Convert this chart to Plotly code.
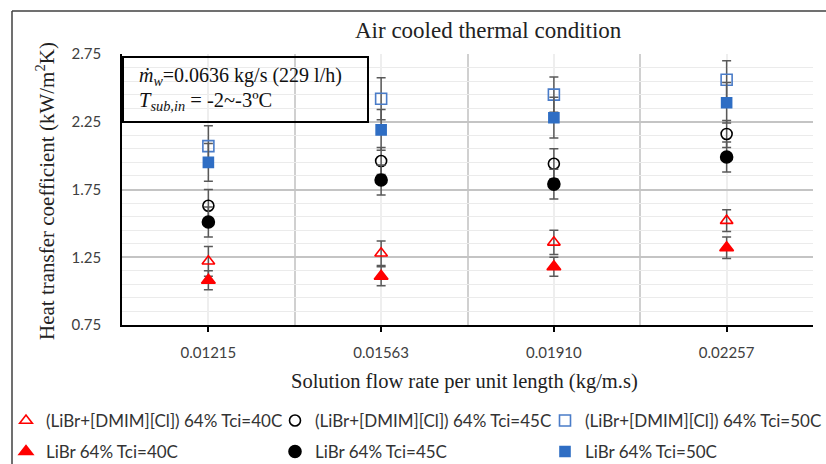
import plotly.graph_objects as go

# ---------------- data ----------------
categories = ["0.01215", "0.01563", "0.01910", "0.02257"]

dmim_40 = [1.22, 1.28, 1.36, 1.52]
dmim_45 = [1.63, 1.96, 1.94, 2.16]
dmim_50 = [2.07, 2.42, 2.45, 2.56]
libr_40 = [1.08, 1.11, 1.18, 1.32]
libr_45 = [1.51, 1.82, 1.79, 1.99]
libr_50 = [1.95, 2.19, 2.28, 2.39]

err_dmim_40 = [0.11, 0.09, 0.09, 0.08]
err_dmim_45 = [0.12, 0.10, 0.11, 0.10]
err_dmim_50 = [0.15, 0.155, 0.13, 0.14]
err_libr_40 = [0.07, 0.07, 0.07, 0.08]
err_libr_45 = [0.11, 0.11, 0.11, 0.11]
err_libr_50 = [0.14, 0.15, 0.15, 0.15]

y_ticks = [0.75, 1.25, 1.75, 2.25, 2.75]

names = [
    "(LiBr+[DMIM][Cl]) 64% Tci=40C",
    "(LiBr+[DMIM][Cl]) 64% Tci=45C",
    "(LiBr+[DMIM][Cl]) 64% Tci=50C",
    "LiBr 64% Tci=40C",
    "LiBr 64% Tci=45C",
    "LiBr 64% Tci=50C",
]

# ---------------- layout geometry ----------------
W, H = 826, 464
L, R, T, B = 122, 13, 54, 139
PW, PH = W - L - R, H - T - B


def px(x):
    return (x - L) / PW


def py(y):
    return (H - B - y) / PH


x_idx = list(range(len(categories)))

# legend item positions (pixels): one single-item legend per series
leg_x = [6, 275, 545, 6, 275, 545]
leg_y = [421, 421, 421, 452, 452, 452]
leg_ids = ["legend", "legend2", "legend3", "legend4", "legend5", "legend6"]

series = [
    (dmim_40, err_dmim_40, "triangle-up-open", "#FF0000", 11),
    (dmim_45, err_dmim_45, "circle-open", "#000000", 11),
    (dmim_50, err_dmim_50, "square-open", "#4A7CC8", 11),
    (libr_40, err_libr_40, "triangle-up", "#FF0000", 12),
    (libr_45, err_libr_45, "circle", "#000000", 12),
    (libr_50, err_libr_50, "square", "#2F6EC4", 10),
]

fig = go.Figure()
for (vals, err, sym, col, size), name, leg in zip(series, names, leg_ids):
    fig.add_trace(go.Scatter(
        x=x_idx, y=vals, mode="markers", name=name, legend=leg,
        marker=dict(symbol=sym, color=col, size=size,
                    line=dict(color=col, width=1.6)),
        error_y=dict(type="data", array=err, color="#595959",
                     thickness=1.5, width=4.5),
    ))

tick_font = dict(family="Lato, Calibri, sans-serif", size=15, color="#404040")
leg_font = dict(family="Lato, Calibri, sans-serif", size=17, color="#333333")
serif = "Liberation Serif, Times New Roman, serif"

legend_common = dict(
    orientation="h", xref="paper", yref="paper",
    xanchor="left", yanchor="middle",
    font=leg_font, bgcolor="rgba(0,0,0,0)", borderwidth=0,
    itemclick=False, itemdoubleclick=False,
)
legends = {lid: dict(legend_common, x=px(lx), y=py(ly))
           for lid, lx, ly in zip(leg_ids, leg_x, leg_y)}

fig.update_layout(
    width=W, height=H,
    margin=dict(l=L, r=R, t=T, b=B, autoexpand=False),
    paper_bgcolor="white", plot_bgcolor="white",
    showlegend=True,
    xaxis=dict(
        range=[-0.5, len(categories) - 0.5],
        tickmode="array", tickvals=x_idx, ticktext=categories,
        showgrid=True, gridcolor="#EEEEEE", gridwidth=1.5,
        minor=dict(tickmode="array",
                   tickvals=[i - 0.5 for i in range(len(categories) + 1)],
                   showgrid=True, gridcolor="#D0D0D0", gridwidth=1.5,
                   ticks=""),
        ticks="outside", ticklen=5, tickcolor="#000000", tickwidth=1.5,
        showline=True, linecolor="#000000", linewidth=1.5,
        tickfont=tick_font, ticklabelstandoff=8,
        zeroline=False, fixedrange=True,
    ),
    yaxis=dict(
        range=[0.75, 2.75],
        tickmode="array", tickvals=y_ticks, tickformat=".2f",
        showgrid=True, gridcolor="#C4C4C4", gridwidth=1.5,
        minor=dict(dtick=0.1, tick0=0.75, showgrid=True,
                   gridcolor="#EBEBEB", gridwidth=1, ticks=""),
        ticks="", showline=True, linecolor="#000000", linewidth=1.5,
        tickfont=tick_font, ticklabelstandoff=16,
        zeroline=False, fixedrange=True,
    ),
    **legends,
)

annotations = [
    dict(text="Air cooled thermal condition", x=px(488), y=py(30),
         font=dict(family=serif, size=23, color="#222222")),
    dict(text="Heat transfer coefficient (kW/m<sup>2</sup>K)", x=px(45), y=py(191),
         textangle=-90, font=dict(family=serif, size=21, color="#222222")),
    dict(text="Solution flow rate per unit length (kg/m.s)", x=px(464), y=py(381),
         font=dict(family=serif, size=20.5, color="#222222")),
    dict(text="<i>ṁ</i><sub><i>w</i></sub>=0.0636 kg/s <span style='font-size:20px'>(229 l/h)</span>",
         x=px(137), y=py(77), xanchor="left",
         font=dict(family=serif, size=20, color="#111111")),
    dict(text="<i>T</i><sub><i>sub,in</i></sub> = -2~-3ºC",
         x=px(137), y=py(101), xanchor="left",
         font=dict(family=serif, size=20.5, color="#111111")),
]
for a in annotations:
    a.setdefault("xanchor", "center")
    a.update(xref="paper", yref="paper", yanchor="middle", showarrow=False)
fig.update_layout(annotations=annotations)

fig.update_layout(shapes=[
    dict(type="rect", xref="paper", yref="paper",
         x0=px(123), x1=px(368), y0=py(57), y1=py(122),
         line=dict(color="#000000", width=2)),
    dict(type="line", xref="paper", yref="paper",
         x0=px(12), x1=px(12), y0=py(11), y1=py(470),
         line=dict(color="#404040", width=1.5)),
    dict(type="line", xref="paper", yref="paper",
         x0=px(12), x1=px(830), y0=py(11), y1=py(11),
         line=dict(color="#404040", width=1.5)),
])

fig.write_html(
    "out.html",
    config={"displayModeBar": False},
    post_script="document.body.style.margin='0';document.body.style.overflow='hidden';",
)
